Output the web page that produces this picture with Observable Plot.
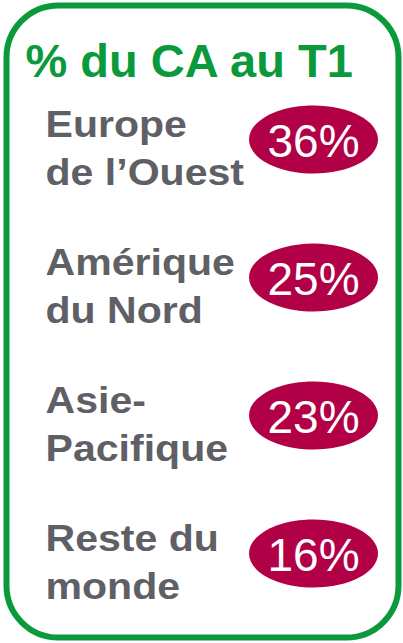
<!DOCTYPE html>
<html>
<head>
<meta charset="utf-8">
<script src="https://cdn.jsdelivr.net/npm/d3@7"></script>
<script src="https://cdn.jsdelivr.net/npm/@observablehq/plot@0.6"></script>
<style>
  html, body { margin: 0; padding: 0; background: #ffffff; }
  #chart { width: 403px; height: 643px; overflow: hidden; }
</style>
</head>
<body>
<div id="chart"></div>
<script>
// ---- data ----
const title = "% du CA au T1";
const regions = ["Europe\nde l’Ouest", "Amérique\ndu Nord", "Asie-\nPacifique", "Reste du\nmonde"];
const shares = [36, 25, 23, 16];
const columns = ["label", "value"];

// ---- styling ----
const green = "#0a9a3c";
const gray = "#5f6066";
const crimson = "#b20046";
const font = "'Liberation Sans', Arial, Helvetica, sans-serif";

const rows = regions.map((region, i) => ({region, share: shares[i]}));

function ellipseSymbol(rx, ry) {
  const k = 0.5522847498;
  return {
    draw(ctx) {
      ctx.moveTo(rx, 0);
      ctx.bezierCurveTo(rx, ry * k, rx * k, ry, 0, ry);
      ctx.bezierCurveTo(-rx * k, ry, -rx, ry * k, -rx, 0);
      ctx.bezierCurveTo(-rx, -ry * k, -rx * k, -ry, 0, -ry);
      ctx.bezierCurveTo(rx * k, -ry, rx, -ry * k, rx, 0);
      ctx.closePath();
    }
  };
}

const chart = Plot.plot({
  width: 403,
  height: 643,
  marginTop: 5,
  marginBottom: 6,
  marginLeft: 6,
  marginRight: 5,
  style: {fontFamily: font, background: "#ffffff"},
  x: {type: "point", domain: columns, range: [45, 313], padding: 0, axis: null},
  y: {type: "point", domain: regions, range: [139, 553], padding: 0, axis: null},
  marks: [
    Plot.frame({stroke: green, strokeWidth: 6, rx: 52, ry: 52}),
    Plot.text([title], {
      frameAnchor: "top-left",
      text: d => d,
      dx: 19,
      dy: 71,
      lineAnchor: "bottom",
      textAnchor: "start",
      fill: green,
      fontSize: 47,
      fontWeight: "bold",
      fontFamily: font
    }),
    Plot.text(rows, {
      x: () => "label",
      y: "region",
      text: "region",
      textAnchor: "start",
      lineAnchor: "bottom",
      lineHeight: 1.297,
      dy: 45,
      fill: gray,
      fontSize: 37,
      fontWeight: "bold",
      fontFamily: font
    }),
    Plot.dot(rows, {
      x: () => "value",
      y: "region",
      r: 30,
      symbol: ellipseSymbol(64.5, 34),
      fill: crimson,
      stroke: "none"
    }),
    Plot.text(rows, {
      x: () => "value",
      y: "region",
      text: d => d.share + "%",
      textAnchor: "middle",
      lineAnchor: "middle",
      dy: 3,
      fill: "#ffffff",
      fontSize: 46,
      fontFamily: font
    })
  ]
});

// slightly wider label lettering as in the reference
d3.select(chart).selectAll("g")
  .filter(function () { return this.getAttribute("font-size") === "37"; })
  .selectAll("text")
  .each(function () {
    const t = this.getAttribute("transform") || "";
    this.setAttribute("transform", t + " scale(1.11,1)");
  });

document.getElementById("chart").appendChild(chart);
</script>
</body>
</html>
